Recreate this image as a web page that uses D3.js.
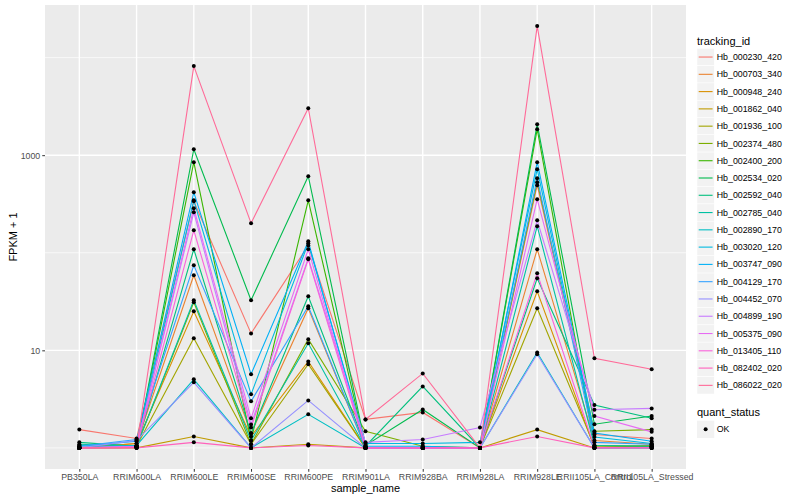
<!DOCTYPE html>
<html>
<head>
<meta charset="utf-8">
<script src="https://d3js.org/d3.v7.min.js"></script>
<style>
  body { margin: 0; background: #fff; }
  text { font-family: "Liberation Sans", Arial, sans-serif; }
</style>
</head>
<body>
<div id="chart"></div>
<script>
// samples on the x axis
var samples = ["PB350LA", "RRIM600LA", "RRIM600LE", "RRIM600SE", "RRIM600PE", "RRIM901LA",
	"RRIM928BA", "RRIM928LA", "RRIM928LE", "RRII105LA_Control", "RRII105LA_Stressed"];

var trackingIds = ["Hb_000230_420", "Hb_000703_340", "Hb_000948_240", "Hb_001862_040", "Hb_001936_100",
	"Hb_002374_480", "Hb_002400_200", "Hb_002534_020", "Hb_002592_040", "Hb_002785_040",
	"Hb_002890_170", "Hb_003020_120", "Hb_003747_090", "Hb_004129_170", "Hb_004452_070",
	"Hb_004899_190", "Hb_005375_090", "Hb_013405_110", "Hb_082402_020", "Hb_086022_020"];

// FPKM + 1, one row per tracking id, one value per sample
var fpkm = [
	[1.54, 1.25, 337, 14.9, 119, 1.96, 2.31, 1.0, 492, 1.37, 1.25],
	[1.0, 1.11, 58.8, 1.41, 27.0, 1.0, 1.0, 1.0, 108.6, 1.19, 1.09],
	[1.0, 1.11, 25.1, 1.31, 7.7, 1.0, 1.0, 1.0, 40.3, 1.0, 1.06],
	[1.0, 1.0, 1.31, 1.0, 1.09, 1.0, 1.0, 1.0, 1.54, 1.0, 1.0],
	[1.0, 1.04, 13.3, 1.09, 7.2, 1.0, 1.0, 1.0, 27.0, 1.04, 1.04],
	[1.0, 1.04, 31.1, 1.09, 13.0, 1.48, 1.04, 1.0, 528, 1.48, 1.54],
	[1.0, 1.01, 848, 1.19, 345, 1.01, 1.0, 1.0, 1848, 1.06, 1.04],
	[1.06, 1.01, 1152, 32.6, 609, 1.06, 2.48, 1.0, 2079, 1.75, 2.12],
	[1.14, 1.04, 108.6, 1.41, 35.8, 1.04, 4.27, 1.0, 54.8, 2.75, 2.01],
	[1.09, 1.04, 32.6, 1.19, 11.8, 1.0, 1.0, 1.0, 187, 1.06, 1.04],
	[1.0, 1.06, 5.04, 1.0, 2.21, 1.0, 1.0, 1.0, 9.5, 1.0, 1.0],
	[1.0, 1.06, 345, 3.54, 125, 1.11, 1.11, 1.14, 718, 1.29, 1.11],
	[1.04, 1.17, 417, 5.7, 131, 1.04, 1.04, 1.0, 848, 1.42, 1.17],
	[1.04, 1.22, 74.4, 3.0, 28.3, 1.0, 1.0, 1.0, 581, 1.14, 1.09],
	[1.0, 1.19, 4.7, 1.0, 3.07, 1.0, 1.0, 1.0, 9.1, 1.0, 1.0],
	[1.0, 1.04, 260, 1.74, 87.8, 1.14, 1.22, 1.62, 215, 2.46, 2.54],
	[1.0, 1.04, 286, 2.01, 108.6, 1.0, 1.0, 1.0, 354, 2.12, 1.46],
	[1.0, 1.01, 170, 1.62, 85.8, 1.0, 1.0, 1.0, 61.6, 1.01, 1.01],
	[1.0, 1.0, 1.14, 1.0, 1.06, 1.0, 1.0, 1.0, 1.31, 1.0, 1.0],
	[1.0, 1.01, 8185, 201, 3034, 1.96, 5.8, 1.0, 21040, 8.3, 6.4]
];

var quantStatus = ["OK"];

// y axis breaks
var yBreaks = [10, 1000];
var yMinorBreaks = [1, 100, 10000];

var width = 800, height = 500;
var panel = { left: 45, right: 686, top: 5, bottom: 469 };

// ggplot-style hue palette (polar LUV -> sRGB)
function hclLuv(h, c, l) {
	var hr = h * Math.PI / 180;
	var U = c * Math.cos(hr), V = c * Math.sin(hr);
	var Xn = 95.047, Yn = 100, Zn = 108.883;
	var den = Xn + 15 * Yn + 3 * Zn;
	var un = 4 * Xn / den, vn = 9 * Yn / den;
	var Y = Yn * (l > 8 ? Math.pow((l + 16) / 116, 3) : l / 903.3);
	var u = U / (13 * l) + un, v = V / (13 * l) + vn;
	var X = 9 * Y * u / (4 * v);
	var Z = -X / 3 - 5 * Y + 3 * Y / v;
	var x = X / 100, y = Y / 100, z = Z / 100;
	var rgb = [
		3.240479 * x - 1.53715 * y - 0.498535 * z,
		-0.969256 * x + 1.875992 * y + 0.041556 * z,
		0.055648 * x - 0.204043 * y + 1.057311 * z
	].map(function(t) {
		t = t <= 0.0031308 ? 12.92 * t : 1.055 * Math.pow(t, 1 / 2.4) - 0.055;
		return Math.round(Math.max(0, Math.min(1, t)) * 255);
	});
	return d3.rgb(rgb[0], rgb[1], rgb[2]).formatHex();
}

var n = trackingIds.length;
var palette = trackingIds.map(function(d, i) { return hclLuv(15 + 360 * i / n, 100, 65); });
var color = d3.scaleOrdinal().domain(trackingIds).range(palette);

// long format rows
var rows = [];
trackingIds.forEach(function(id, i) {
	samples.forEach(function(s, j) {
		rows.push({ id: id, sample: s, value: fpkm[i][j], status: quantStatus[0] });
	});
});

var svg = d3.select("#chart").append("svg")
	.attr("width", width)
	.attr("height", height);

// scales
var x = d3.scalePoint()
	.domain(samples)
	.range([panel.left, panel.right])
	.padding(0.6);

var ext = d3.extent(rows, function(d) { return Math.log10(d.value); });
var pad = (ext[1] - ext[0]) * 0.05;
var y = d3.scaleLog()
	.domain([Math.pow(10, ext[0] - pad), Math.pow(10, ext[1] + pad)])
	.range([panel.bottom, panel.top]);

// panel background + grid
svg.append("rect")
	.attr("x", panel.left)
	.attr("y", panel.top)
	.attr("width", panel.right - panel.left)
	.attr("height", panel.bottom - panel.top)
	.attr("fill", "#EBEBEB");

var grid = svg.append("g");
grid.selectAll(".minor")
	.data(yMinorBreaks)
	.enter().append("line")
	.attr("x1", panel.left).attr("x2", panel.right)
	.attr("y1", function(d) { return y(d); })
	.attr("y2", function(d) { return y(d); })
	.attr("stroke", "#fff")
	.attr("stroke-width", 0.7);

grid.selectAll(".major-y")
	.data(yBreaks)
	.enter().append("line")
	.attr("x1", panel.left).attr("x2", panel.right)
	.attr("y1", function(d) { return y(d); })
	.attr("y2", function(d) { return y(d); })
	.attr("stroke", "#fff")
	.attr("stroke-width", 1.4);

grid.selectAll(".major-x")
	.data(samples)
	.enter().append("line")
	.attr("x1", function(d) { return x(d); })
	.attr("x2", function(d) { return x(d); })
	.attr("y1", panel.top).attr("y2", panel.bottom)
	.attr("stroke", "#fff")
	.attr("stroke-width", 1.4);

// lines, one per tracking id
var line = d3.line()
	.x(function(d) { return x(d.sample); })
	.y(function(d) { return y(d.value); });

var series = d3.groups(rows, function(d) { return d.id; });

svg.append("g").selectAll("path")
	.data(series)
	.enter().append("path")
	.attr("d", function(d) { return line(d[1]); })
	.attr("fill", "none")
	.attr("stroke", function(d) { return color(d[0]); })
	.attr("stroke-width", 1.1);

// points
svg.append("g").selectAll("circle")
	.data(rows)
	.enter().append("circle")
	.attr("cx", function(d) { return x(d.sample); })
	.attr("cy", function(d) { return y(d.value); })
	.attr("r", 2)
	.attr("fill", "#000");

// axes
var xAxis = svg.append("g")
	.attr("transform", "translate(0," + panel.bottom + ")")
	.call(d3.axisBottom(x).tickSize(2.75).tickPadding(2));

var yAxis = svg.append("g")
	.attr("transform", "translate(" + panel.left + ",0)")
	.call(d3.axisLeft(y).tickValues(yBreaks).tickFormat(d3.format("d")).tickSize(2.75).tickPadding(2));

[xAxis, yAxis].forEach(function(a) {
	a.select(".domain").remove();
	a.selectAll(".tick line").attr("stroke", "#333333");
	a.selectAll(".tick text")
		.attr("fill", "#4D4D4D")
		.style("font-size", "8.8px")
		.style("font-family", "'Liberation Sans', Arial, sans-serif");
});

// axis titles
svg.append("text")
	.attr("x", (panel.left + panel.right) / 2)
	.attr("y", 492)
	.attr("text-anchor", "middle")
	.style("font-size", "11px")
	.text("sample_name");

svg.append("text")
	.attr("transform", "translate(17," + ((panel.top + panel.bottom) / 2) + ") rotate(-90)")
	.attr("text-anchor", "middle")
	.style("font-size", "11px")
	.text("FPKM + 1");

// legend: tracking_id
var keySize = 17.28;
var legend = svg.append("g").attr("transform", "translate(697,0)");

legend.append("text")
	.attr("x", 0)
	.attr("y", 44.5)
	.style("font-size", "11px")
	.text("tracking_id");

var keys = legend.selectAll(".key")
	.data(trackingIds)
	.enter().append("g")
	.attr("class", "key")
	.attr("transform", function(d, i) { return "translate(0," + (48.4 + i * keySize) + ")"; });

keys.append("rect")
	.attr("width", keySize)
	.attr("height", keySize)
	.attr("fill", "#F2F2F2")
	.attr("stroke", "#fff")
	.attr("stroke-width", 0.5);

keys.append("line")
	.attr("x1", 1.7).attr("x2", keySize - 1.7)
	.attr("y1", keySize / 2).attr("y2", keySize / 2)
	.attr("stroke", function(d) { return color(d); })
	.attr("stroke-width", 1.1);

keys.append("text")
	.attr("x", keySize + 2.5)
	.attr("y", keySize / 2 + 3.1)
	.style("font-size", "8.8px")
	.text(function(d) { return d; });

// legend: quant_status
var legend2 = svg.append("g").attr("transform", "translate(697,0)");

legend2.append("text")
	.attr("x", 0)
	.attr("y", 416)
	.style("font-size", "11px")
	.text("quant_status");

var keys2 = legend2.selectAll(".key2")
	.data(quantStatus)
	.enter().append("g")
	.attr("transform", "translate(0,420.7)");

keys2.append("rect")
	.attr("width", keySize)
	.attr("height", keySize)
	.attr("fill", "#F2F2F2");

keys2.append("circle")
	.attr("cx", keySize / 2)
	.attr("cy", keySize / 2)
	.attr("r", 2)
	.attr("fill", "#000");

keys2.append("text")
	.attr("x", keySize + 2.5)
	.attr("y", keySize / 2 + 3.1)
	.style("font-size", "8.8px")
	.text(function(d) { return d; });
</script>
</body>
</html>
